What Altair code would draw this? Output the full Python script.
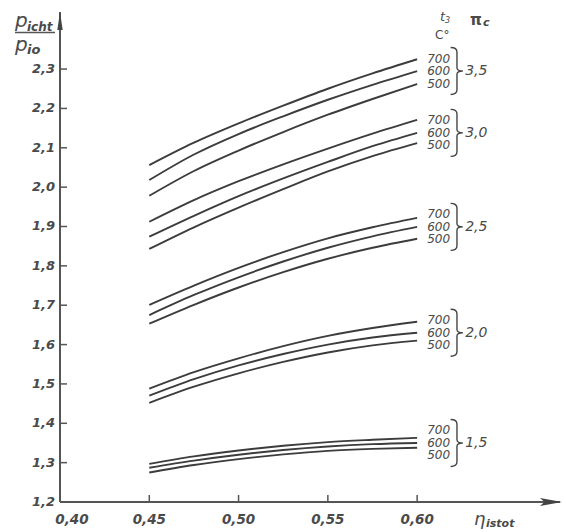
import altair as alt
import pandas as pd

# ---------------- data ----------------
eta_grid = [0.45, 0.475, 0.50, 0.525, 0.55, 0.575, 0.60]

pi35_700 = [2.056, 2.113, 2.162, 2.207, 2.250, 2.289, 2.325]
pi35_600 = [2.018, 2.083, 2.135, 2.180, 2.222, 2.260, 2.295]
pi35_500 = [1.978, 2.041, 2.093, 2.140, 2.184, 2.224, 2.262]

pi30_700 = [1.912, 1.967, 2.015, 2.058, 2.098, 2.136, 2.171]
pi30_600 = [1.874, 1.927, 1.977, 2.022, 2.064, 2.104, 2.138]
pi30_500 = [1.843, 1.898, 1.948, 1.995, 2.040, 2.079, 2.112]

pi25_700 = [1.701, 1.750, 1.795, 1.835, 1.870, 1.898, 1.922]
pi25_600 = [1.675, 1.726, 1.771, 1.811, 1.846, 1.875, 1.899]
pi25_500 = [1.653, 1.701, 1.745, 1.784, 1.818, 1.846, 1.869]

pi20_700 = [1.488, 1.530, 1.565, 1.596, 1.622, 1.642, 1.658]
pi20_600 = [1.470, 1.512, 1.547, 1.576, 1.600, 1.618, 1.630]
pi20_500 = [1.452, 1.493, 1.527, 1.556, 1.580, 1.598, 1.610]

pi15_700 = [1.297, 1.316, 1.331, 1.343, 1.352, 1.358, 1.363]
pi15_600 = [1.287, 1.305, 1.320, 1.332, 1.341, 1.347, 1.350]
pi15_500 = [1.275, 1.294, 1.309, 1.321, 1.330, 1.335, 1.338]

pi_labels = ["3,5", "3,0", "2,5", "2,0", "1,5"]
temp_labels = ["700", "600", "500"]

x_tick_values = [0.40, 0.45, 0.50, 0.55, 0.60]
x_tick_labels = ["0,40", "0,45", "0,50", "0,55", "0,60"]
y_tick_values = [1.2, 1.3, 1.4, 1.5, 1.6, 1.7, 1.8, 1.9, 2.0, 2.1, 2.2, 2.3]
y_tick_labels = ["1,2", "1,3", "1,4", "1,5", "1,6", "1,7", "1,8", "1,9",
                 "2,0", "2,1", "2,2", "2,3"]

groups = [
    ("3,5", [pi35_700, pi35_600, pi35_500]),
    ("3,0", [pi30_700, pi30_600, pi30_500]),
    ("2,5", [pi25_700, pi25_600, pi25_500]),
    ("2,0", [pi20_700, pi20_600, pi20_500]),
    ("1,5", [pi15_700, pi15_600, pi15_500]),
]

rows = []
for pi, lists in groups:
    for t, vals in zip(temp_labels, lists):
        for e, v in zip(eta_grid, vals):
            rows.append({"eta": e, "ratio": v, "series": pi + "_" + t})
df = pd.DataFrame(rows)

lab_df = pd.DataFrame({
    "pi": [g[0] for g in groups],
    "eta": [eta_grid[-1]] * len(groups),
    "ratio": [g[1][1][-1] for g in groups],
})

# ---------------- styling ----------------
FONT = "DejaVu Sans"
INK = "#3c3c3c"
TXT = "#4a4a4a"
X0, X1 = 0.40, 0.68
Y0, Y1 = 1.2, 2.445
xs = alt.Scale(domain=[X0, X1], nice=False, zero=False)
ys = alt.Scale(domain=[Y0, Y1], nice=False, zero=False)

def X(f):
    return alt.X(f, type="quantitative", scale=xs, axis=None)

def Y(f):
    return alt.Y(f, type="quantitative", scale=ys, axis=None)

lines = alt.Chart(df).mark_line(color=INK, strokeWidth=1.9, interpolate="monotone").encode(
    x=X("eta"), y=Y("ratio"), detail="series:N")

# axes
yaxis = alt.Chart(pd.DataFrame({"x": [X0], "y": [Y0], "y2": [Y1]})).mark_rule(
    color="#555", strokeWidth=2).encode(x=X("x"), y=Y("y"), y2="y2")
xaxis = alt.Chart(pd.DataFrame({"x": [X0], "x2": [X1], "y": [Y0]})).mark_rule(
    color="#555", strokeWidth=2).encode(x=X("x"), x2="x2", y=Y("y"))

up_arrow = alt.Chart(pd.DataFrame({"x": [X0], "y": [Y1]})).mark_point(
    shape="M -0.3 1 L 0 -1 L 0.3 1 Z", size=324, filled=True, color="#444",
    opacity=1, yOffset=9).encode(x=X("x"), y=Y("y"))
right_arrow = alt.Chart(pd.DataFrame({"x": [X1], "y": [Y0]})).mark_point(
    shape="M -1 -0.36 L 1 0 L -1 0.36 L -0.6 0 Z", size=484, filled=True, color="#444",
    opacity=1, xOffset=-9).encode(x=X("x"), y=Y("y"))

yt_df = pd.DataFrame({"x": [X0] * (len(y_tick_values) - 1), "y": y_tick_values[1:]})
yticks = alt.Chart(yt_df).mark_rule(color="#555", strokeWidth=1.5, x2Offset=7).encode(
    x=X("x"), x2="x", y=Y("y"))
xt_df = pd.DataFrame({"x": x_tick_values[1:], "y": [Y0] * (len(x_tick_values) - 1)})
xticks = alt.Chart(xt_df).mark_rule(color="#555", strokeWidth=1.5, y2Offset=-7).encode(
    x=X("x"), y=Y("y"), y2="y")

ylab_df = pd.DataFrame({"x": [X0] * len(y_tick_values), "y": y_tick_values, "t": y_tick_labels})
ylabels = alt.Chart(ylab_df).mark_text(
    font=FONT, fontSize=13, fontStyle="italic", fontWeight="bold", color=TXT,
    align="right", baseline="middle", dx=-5).encode(x=X("x"), y=Y("y"), text="t:N")

xlab_df = pd.DataFrame({"x": x_tick_values, "y": [Y0] * len(x_tick_values), "t": x_tick_labels})
xlabels = alt.Chart(xlab_df).transform_filter("datum.x > 0.41").mark_text(
    font=FONT, fontSize=13.5, fontStyle="italic", fontWeight="bold", color=TXT,
    align="center", baseline="middle", dy=18).encode(x=X("x"), y=Y("y"), text="t:N")
xlabel0 = alt.Chart(xlab_df).transform_filter("datum.x < 0.41").mark_text(
    font=FONT, fontSize=13.5, fontStyle="italic", fontWeight="bold", color=TXT,
    align="center", baseline="middle", dy=18, dx=12).encode(x=X("x"), y=Y("y"), text="t:N")

# curve labels
temp_layers = []
for t, dy in zip(temp_labels, [-12.5, 0, 12.5]):
    temp_layers.append(
        alt.Chart(lab_df).mark_text(
            text=t, font=FONT, fontSize=12, fontStyle="italic", color=TXT,
            align="left", baseline="middle", dx=10, dy=dy).encode(x=X("eta"), y=Y("ratio")))

brace_path = ("M -0.32 -1 Q -0.05 -1 -0.05 -0.8 L -0.05 -0.14 Q -0.05 0 0.2 0 "
              "Q -0.05 0 -0.05 0.14 L -0.05 0.8 Q -0.05 1 -0.32 1")
braces = alt.Chart(lab_df).mark_point(
    shape=brace_path, size=2209, filled=False, color="#444", strokeWidth=1.4,
    opacity=1, xOffset=41).encode(x=X("eta"), y=Y("ratio"))
pilabels = alt.Chart(lab_df).mark_text(
    font=FONT, fontSize=14, fontStyle="italic", color=TXT,
    align="left", baseline="middle", dx=48).encode(x=X("eta"), y=Y("ratio"), text="pi:N")

def txt(s, x, y, size, weight="normal", style="italic", align="left", baseline="alphabetic"):
    return alt.Chart(pd.DataFrame({"t": [s]})).mark_text(
        font=FONT, fontSize=size, fontWeight=weight, fontStyle=style, color=TXT,
        align=align, baseline=baseline).encode(
        x=alt.value(x), y=alt.value(y), text="t:N")

annots = [
    txt("t", 380, 9, 13),
    txt("3", 385, 11, 8),
    txt("C°", 375, 27, 12, style="normal"),
    txt("π", 410, 13, 15, weight="bold", style="normal"),
    txt("c", 423, 14, 11, weight="bold"),
    txt("p", -45, 15, 20),
    txt("icht", -33, 19, 12, weight="bold"),
    txt("p", -45, 39, 20),
    txt("io", -33, 42, 13, weight="bold"),
    txt("η", 414, 513, 18),
    txt("istot", 426, 515, 11, weight="bold"),
]
frac = alt.Chart(pd.DataFrame({"a": [0]})).mark_rule(color="#555", strokeWidth=1.5).encode(
    x=alt.value(-45), x2=alt.value(-5), y=alt.value(20.5))

chart = alt.layer(
    lines, yaxis, xaxis, up_arrow, right_arrow, yticks, xticks,
    ylabels, xlabels, xlabel0, *temp_layers, braces, pilabels, frac, *annots
).properties(
    width=500, height=490,
    autosize=alt.AutoSizeParams(type="none"),
    padding={"left": 60, "top": 12, "right": 6, "bottom": 30},
    background="white",
).configure_view(stroke=None)

chart.save("out.html", embed_options={"renderer": "svg", "actions": False})
